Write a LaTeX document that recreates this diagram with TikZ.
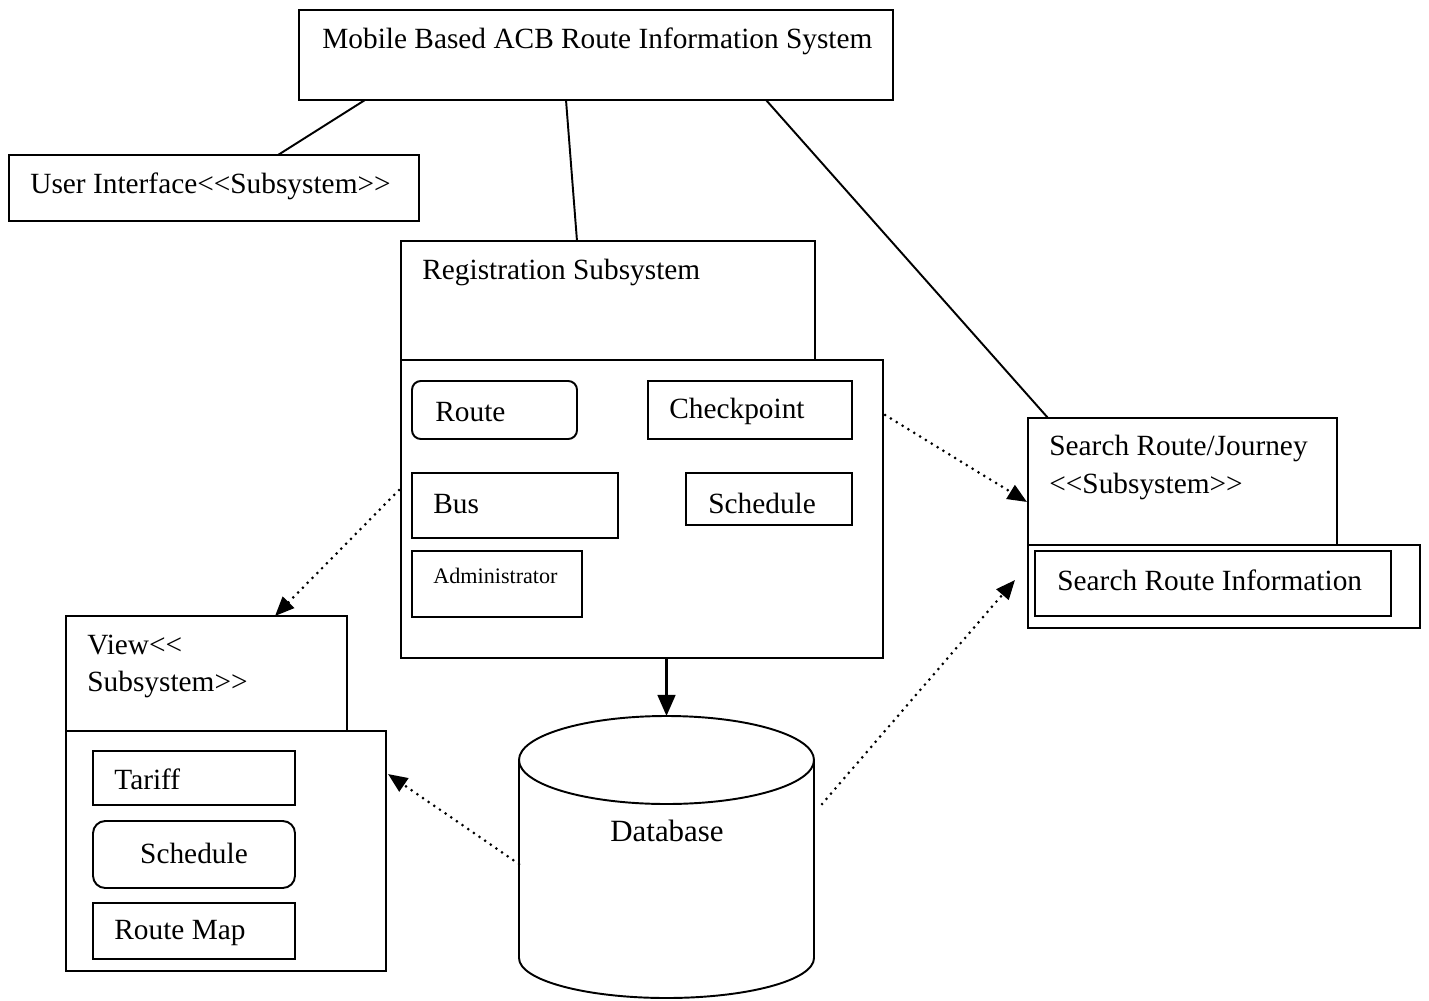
\documentclass[tikz,border=0pt]{standalone}
\usepackage{fontspec}
\setmainfont{Liberation Serif}[Ligatures=TeXOff]
\usetikzlibrary{arrows.meta,fit,calc}

\begin{document}
\begin{tikzpicture}[x=0.02cm,y=-0.02cm,
  frame/.style={draw, line width=1.1pt, inner sep=0pt, outer sep=0pt},
  roundframe/.style={frame, rounded corners=5pt},
  lbl/.style={inner sep=0pt, yshift=-0.05cm, font=\fontsize{16.7}{21.3}\selectfont, align=left},
  smalllbl/.style={inner sep=0pt, yshift=-0.04cm, font=\fontsize{12.6}{15}\selectfont},
  link/.style={line width=1.1pt},
  tip/.style={-{Triangle[length=11pt,width=9pt]}},
  dots/.style={line width=1.7pt, line cap=round, dash pattern=on 0pt off 3.9pt, tip}
]
\useasboundingbox (0,0) rectangle (1429,1000);

% whole system
\node[frame, fit={(299,10)(893,100)}] (sys) {};
\node[lbl, anchor=west] (sysT) at (322,39) {Mobile Based ACB Route Information System};

% user interface subsystem
\node[frame, fit={(9,155)(419,221)}] (ui) {};
\node[lbl, anchor=west] (uiT) at (30,184) {User Interface<<Subsystem>>};

% registration subsystem
\node[frame, fit={(401,241)(815,360)}] (regup) {};
\node[lbl, anchor=west] (regT) at (422,270) {Registration Subsystem};
\node[frame, fit={(401,360)(883,658)}] (reglow) {};
\node[roundframe, fit={(412,381)(577,439)}] (route) {};
\node[lbl, anchor=west] (routeT) at (435,410) {Route};
\node[frame, fit={(648,381)(852,439)}] (chk) {};
\node[lbl, anchor=west] (chkT) at (669,409) {Checkpoint};
\node[frame, fit={(412,473)(618,538)}] (bus) {};
\node[lbl, anchor=west] (busT) at (433,502) {Bus};
\node[frame, fit={(686,473)(852,525)}] (sch) {};
\node[lbl, anchor=west] (schT) at (708,501) {Schedule};
\node[frame, fit={(412,551)(582,617)}] (adm) {};
\node[smalllbl, anchor=west] (admT) at (433,574) {Administrator};

% search subsystem
\node[frame, fit={(1028,418)(1337,545)}] (srchup) {};
\node[lbl, anchor=west] (srchT) at (1049,465) {Search Route/Journey\\<<Subsystem>>};
\node[frame, fit={(1028,545)(1420,628)}] (srchlow) {};
\node[frame, fit={(1035,551)(1391,616)}] (sri) {};
\node[lbl, anchor=west] (sriT) at (1057,578) {Search Route Information};

% view subsystem
\node[frame, fit={(66,616)(347,731)}] (viewup) {};
\node[lbl, anchor=west] (viewT) at (87,664) {View<<\\Subsystem>>};
\node[frame, fit={(66,731)(386,971)}] (viewlow) {};
\node[frame, fit={(93,751)(295,805)}] (tar) {};
\node[lbl, anchor=west] (tarT) at (114,777) {Tariff};
\node[frame, rounded corners=7pt, fit={(93,821)(295,888)}] (vsch) {};
\node[lbl] (vschT) at (194,851) {Schedule};
\node[frame, fit={(93,903)(295,959)}] (rmap) {};
\node[lbl, anchor=west] (rmapT) at (114,931) {Route Map};

% database cylinder
\draw[link] (666.5,760) ellipse [x radius=147.5, y radius=44];
\draw[link] (519,760) -- (519,958) arc[start angle=180, end angle=0, x radius=147.5, y radius=40] -- (814,760);
\node[inner sep=0pt, outer sep=0pt, fit={(519,716)(814,998)}] (db) {};
\node[inner sep=0pt, yshift=-0.04cm, font=\fontsize{17.6}{21}\selectfont] (dbT) at (667,829) {Database};

% composition lines
\draw[link] ($(sys.south west)+(66,0)$) -- ($(ui.north)+(64,0)$);
\draw[link] ($(sys.south)+(-30,0)$) -- ($(regup.north)+(-31,0)$);
\draw[link] ($(sys.south east)+(-127,0)$) -- ($(srchup.north west)+(20,0)$);

% data flow
\draw[line width=1.7pt, -{Triangle[length=12pt,width=10pt]}] (reglow.south -| db.north) -- (db.north);
\draw[dots] ($(reglow.north west)+(-2,130)$) -- ($(viewup.north west)+(209,0)$);
\draw[dots] ($(reglow.north east)+(2,55)$) -- ($(srchup.north west)+(-1,84)$);
\draw[dots] ($(db.west)+(0,7)$) -- ($(viewlow.north east)+(2,43)$);
\draw[dots] ($(db.east)+(8,-53)$) -- ($(srchlow.south west)+(-13,-48)$);
\end{tikzpicture}
\end{document}
